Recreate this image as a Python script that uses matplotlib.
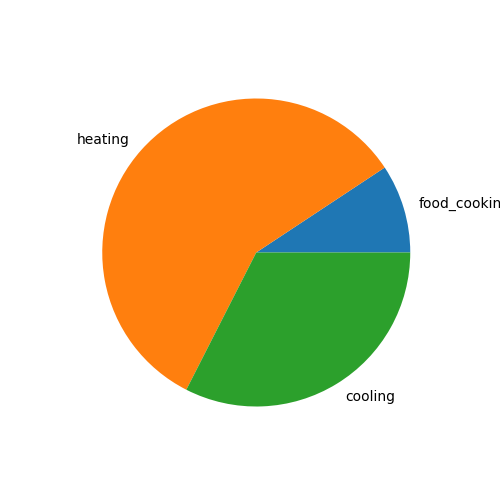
import matplotlib
matplotlib.use('Agg')
import matplotlib.pyplot as plt

# energy use shares
labels = ['food_cooking', 'heating', 'cooling']
values = [9.3, 58.2, 32.5]

fig, ax = plt.subplots(figsize=(5, 5), dpi=100)
ax.pie(values, labels=labels)
fig.savefig('out.png')
